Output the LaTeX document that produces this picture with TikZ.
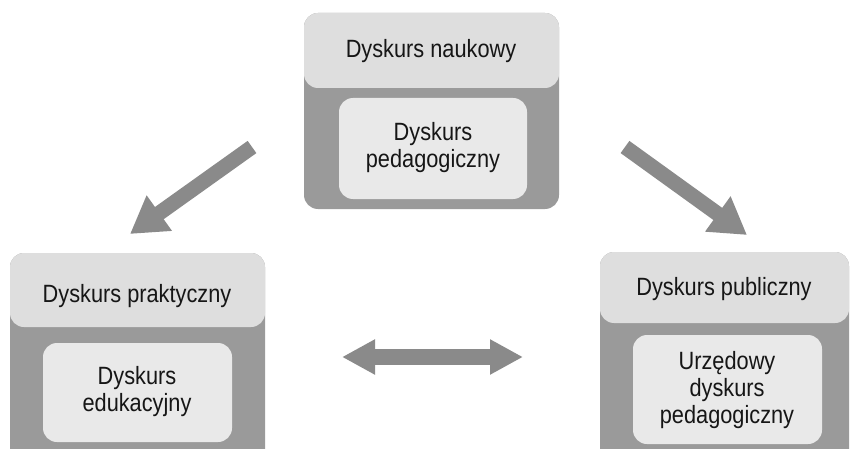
\documentclass[tikz,border=0pt]{standalone}
\usepackage{fontspec}
\setmainfont{Liberation Sans}[FakeStretch=0.87]
\usetikzlibrary{arrows.meta}
\definecolor{bodygray}{HTML}{9A9A9A}
\definecolor{headgray}{HTML}{DEDEDE}
\definecolor{innergray}{HTML}{E9E9E9}
\definecolor{arrowgray}{HTML}{8A8A8A}
\definecolor{ink}{HTML}{161616}
\begin{document}
\begin{tikzpicture}[x=1pt,y=-1pt,
  outerbox/.style={fill=bodygray,rounded corners=14pt},
  headbox/.style={fill=headgray,rounded corners=14pt},
  innerbox/.style={fill=innergray,rounded corners=14pt},
  lbl/.style={text=ink,font=\fontsize{25}{27}\selectfont,align=center,inner sep=0pt},
  flow/.style={draw=arrowgray,line width=15pt,-{Triangle[width=41pt,length=36pt]}},
  both/.style={draw=arrowgray,line width=16pt,{Triangle[width=33pt,length=33pt]}-{Triangle[width=33pt,length=33pt]}}]
\useasboundingbox (0,0) rectangle (850,449);
\clip (0,0) rectangle (850,449);
% top: scientific discourse
\path[outerbox] (304,13) rectangle (559,209);
\path[headbox] (304,13) rectangle (559,88);
\path[innerbox] (339,98) rectangle (527,199);
\node[lbl] (nauk) at (431,51) {Dyskurs naukowy};
\node[lbl] (ped) at (433,148) {Dyskurs\\pedagogiczny};
% left: practical discourse
\path[outerbox] (10,253) rectangle (265,480);
\path[headbox] (10,253) rectangle (265,327);
\path[innerbox] (43,343) rectangle (232,442);
\node[lbl] (prakt) at (137,296) {Dyskurs praktyczny};
\node[lbl] (edu) at (137,392) {Dyskurs\\edukacyjny};
% right: public discourse
\path[outerbox] (600,252) rectangle (849,480);
\path[headbox] (600,252) rectangle (849,323);
\path[innerbox] (633,335) rectangle (822,444);
\node[lbl] (publ) at (724,289) {Dyskurs publiczny};
\node[lbl] (urz) at (727,390) {Urzędowy\\dyskurs\\pedagogiczny};
% arrows
\coordinate (lt) at (252,147);
\coordinate (lh) at (130,234);
\coordinate (rt) at (625,147);
\coordinate (rh) at (747,235);
\coordinate (ma) at (342,357);
\coordinate (mb) at (523,357);
\draw[flow] (lt) -- (lh);
\draw[flow] (rt) -- (rh);
\draw[both] (ma) -- (mb);
\end{tikzpicture}
\end{document}
